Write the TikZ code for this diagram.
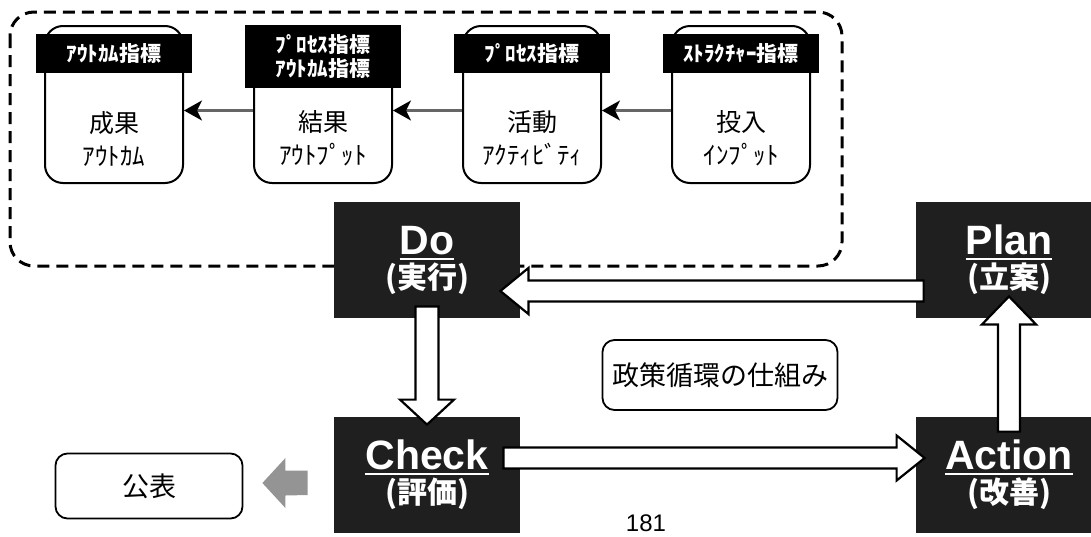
\documentclass[tikz,border=0pt]{standalone}
\usepackage{fontspec}
\setmainfont{Liberation Sans}
\newfontfamily\jp{Noto Sans CJK JP}
\usetikzlibrary{arrows.meta, calc}
\newcommand\ulword[1]{{\setbox0\hbox{#1}\rlap{\rule[-2.8pt]{\wd0}{1pt}}\box0}}

\begin{document}
\begin{tikzpicture}[x=0.5pt, y=-0.5pt,
  stage/.style={draw, line width=1pt, rounded corners=9pt, fill=white, minimum width=69pt, minimum height=78.5pt},
  stagetext/.style={font=\jp\fontsize{12.5}{16.5}\selectfont, align=center},
  tag/.style={fill=black, text=white, font=\jp\bfseries\fontsize{10.5}{12}\selectfont, align=center, minimum width=78pt, minimum height=19.5pt, inner sep=1pt},
  phase/.style={fill=black!88, text=white, align=center, minimum width=93pt, minimum height=58pt, inner sep=0pt, font=\bfseries\fontsize{20.5}{17}\selectfont},
  flow/.style={line width=1.2pt, draw=black!60, -{Stealth[length=9pt, width=10pt, inset=2.5pt, color=black]}},
  hollow/.style={draw, fill=white, line width=1.1pt, line join=miter},
  note/.style={draw, line width=0.9pt, rounded corners=6pt, font=\jp\fontsize{13.5}{16}\selectfont}]
\useasboundingbox (0,0) rectangle (1091,536);
\clip (0,0) rectangle (1091,536);

% Indicator chain frame
\draw[line width=1.5pt, dash pattern=on 6pt off 3.5pt, rounded corners=12pt] (10,12) rectangle (842,266);

% Outcome
\node[stage] (outcome) at (114,104.5) {};
\node[stagetext] (outcome text) at (114,138.5) {成果\\ｱｳﾄｶﾑ};
\node[tag] (outcome tag) at (114,53.5) {ｱｳﾄｶﾑ指標};

% Output
\node[stage] (output) at (323,104.5) {};
\node[stagetext] (output text) at (323,138.5) {結果\\ｱｳﾄﾌﾟｯﾄ};
\node[tag, minimum height=31.5pt] (output tag) at (323,56.5) {ﾌﾟﾛｾｽ指標\\ｱｳﾄｶﾑ指標};

% Activity
\node[stage] (activity) at (532,104.5) {};
\node[stagetext] (activity text) at (532,138.5) {活動\\ｱｸﾃｨﾋﾞﾃｨ};
\node[tag] (activity tag) at (532,53.5) {ﾌﾟﾛｾｽ指標};

% Input
\node[stage] (input) at (741,104.5) {};
\node[stagetext] (input text) at (741,138.5) {投入\\ｲﾝﾌﾟｯﾄ};
\node[tag] (input tag) at (741,53.5) {ｽﾄﾗｸﾁｬｰ指標};

\draw[flow] ([yshift=-3pt]input.west) -- ([yshift=-3pt]activity.east);
\draw[flow] ([yshift=-3pt]activity.west) -- ([yshift=-3pt]output.east);
\draw[flow] ([yshift=-3pt]output.west) -- ([yshift=-3pt]outcome.east);

% PDCA blocks
\node[phase] (do) at (427,260) {\ulword{Do}\\{\jp\fontsize{15}{17}\selectfont(実行)}};
\node[phase] (plan) at (1009,260) {\ulword{Plan}\\{\jp\fontsize{15}{17}\selectfont(立案)}};
\node[phase] (check) at (427,475) {\ulword{Check}\\{\jp\fontsize{15}{17}\selectfont(評価)}};
\node[phase] (action) at (1009,475) {\ulword{Action}\\{\jp\fontsize{15}{17}\selectfont(改善)}};

% Plan -> Do
\draw[hollow] ($(do.east)+(-20,31)$) coordinate (pd tip)
  -- ++(28,-23) -- ++(0,12.5) -| ($(plan.west)+(8,41.5)$)
  -- ($(pd tip)+(28,10.5)$) -- ++(0,12.5) -- cycle;
% Do -> Check
\draw[hollow] ($(check.north)+(0,8)$) coordinate (dc tip)
  -- ++(-27,-25) -- ++(15.5,0) |- ($(do.south)+(11.5,-12)$)
  -- ($(dc tip)+(11.5,-25)$) -- ++(15.5,0) -- cycle;
% Check -> Action
\draw[hollow] ($(action.west)+(9,-17)$) coordinate (ca tip)
  -- ++(-28,-22.5) -- ++(0,12) -| ($(check.east)+(-17,-6.5)$)
  -- ($(ca tip)+(-28,10.5)$) -- ++(0,12) -- cycle;
% Action -> Plan
\draw[hollow] ($(plan.south)+(0,-22)$) coordinate (ap tip)
  -- ++(-27,28) -- ++(16,0) |- ($(action.north)+(11,15)$)
  -- ($(ap tip)+(11,28)$) -- ++(16,0) -- cycle;

% Notes
\node[note, minimum width=117.5pt, minimum height=35pt] (cycle) at (720,375) {政策循環の仕組み};
\node[note, minimum width=93.5pt, minimum height=32.5pt] (announce) at (149,486) {公表};

% Check -> publication
\fill[black!42] ($(announce.east)+(19,-3)$) coordinate (pub tip)
  -- ++(23,-25) -- ++(0,12.5) -| ($(check.west)+(-26,20)$)
  -- ($(pub tip)+(23,12.5)$) -- ++(0,12.5) -- cycle;

\node[font=\fontsize{12}{14}\selectfont, anchor=north, inner sep=1pt] (page) at (646,512) {181};
\end{tikzpicture}
\end{document}
